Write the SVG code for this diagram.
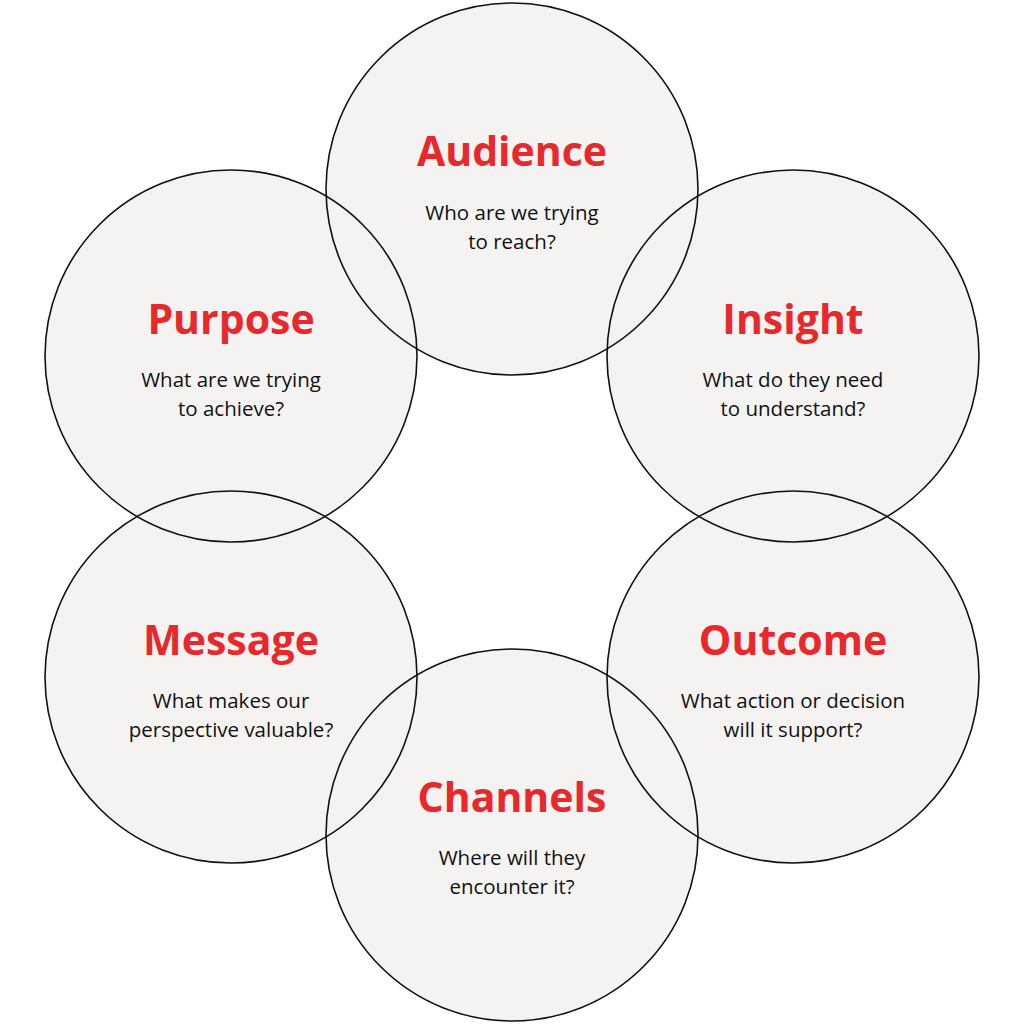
<svg xmlns="http://www.w3.org/2000/svg" width="1024" height="1024" viewBox="0 0 1024 1024">
<style>
.f{fill:#f4f3f2;stroke:none}
.s{fill:none;stroke:#111;stroke-width:1.6}
.t{font-family:"Open Sans","Liberation Sans",sans-serif;font-weight:700;font-size:41px;fill:#e8282b;text-anchor:middle}
.b{font-family:"Open Sans","Liberation Sans",sans-serif;font-size:20.5px;fill:#111;text-anchor:middle}
</style>
<rect width="1024" height="1024" fill="#fff"/>
<g id="fills">
<circle class="f" cx="512" cy="189" r="186"/><circle class="f" cx="231" cy="356" r="186"/><circle class="f" cx="793" cy="356" r="186"/>
<circle class="f" cx="231" cy="677" r="186"/><circle class="f" cx="793" cy="677" r="186"/><circle class="f" cx="512" cy="835" r="186"/>
</g>
<g id="audience"><circle class="s" cx="512" cy="189" r="186"/><text class="t" x="512" y="166">Audience</text><text class="b" x="512" y="220">Who are we trying</text><text class="b" x="512" y="249">to reach?</text></g>
<g id="purpose"><circle class="s" cx="231" cy="356" r="186"/><text class="t" x="231" y="334">Purpose</text><text class="b" x="231" y="387">What are we trying</text><text class="b" x="231" y="416">to achieve?</text></g>
<g id="insight"><circle class="s" cx="793" cy="356" r="186"/><text class="t" x="793" y="334">Insight</text><text class="b" x="793" y="387">What do they need</text><text class="b" x="793" y="416">to understand?</text></g>
<g id="message"><circle class="s" cx="231" cy="677" r="186"/><text class="t" x="231" y="655">Message</text><text class="b" x="231" y="708">What makes our</text><text class="b" x="231" y="737">perspective valuable?</text></g>
<g id="outcome"><circle class="s" cx="793" cy="677" r="186"/><text class="t" x="793" y="655">Outcome</text><text class="b" x="793" y="708">What action or decision</text><text class="b" x="793" y="737">will it support?</text></g>
<g id="channels"><circle class="s" cx="512" cy="835" r="186"/><text class="t" x="512" y="812">Channels</text><text class="b" x="512" y="865">Where will they</text><text class="b" x="512" y="894">encounter it?</text></g>
<g id="connectors"/>
</svg>
